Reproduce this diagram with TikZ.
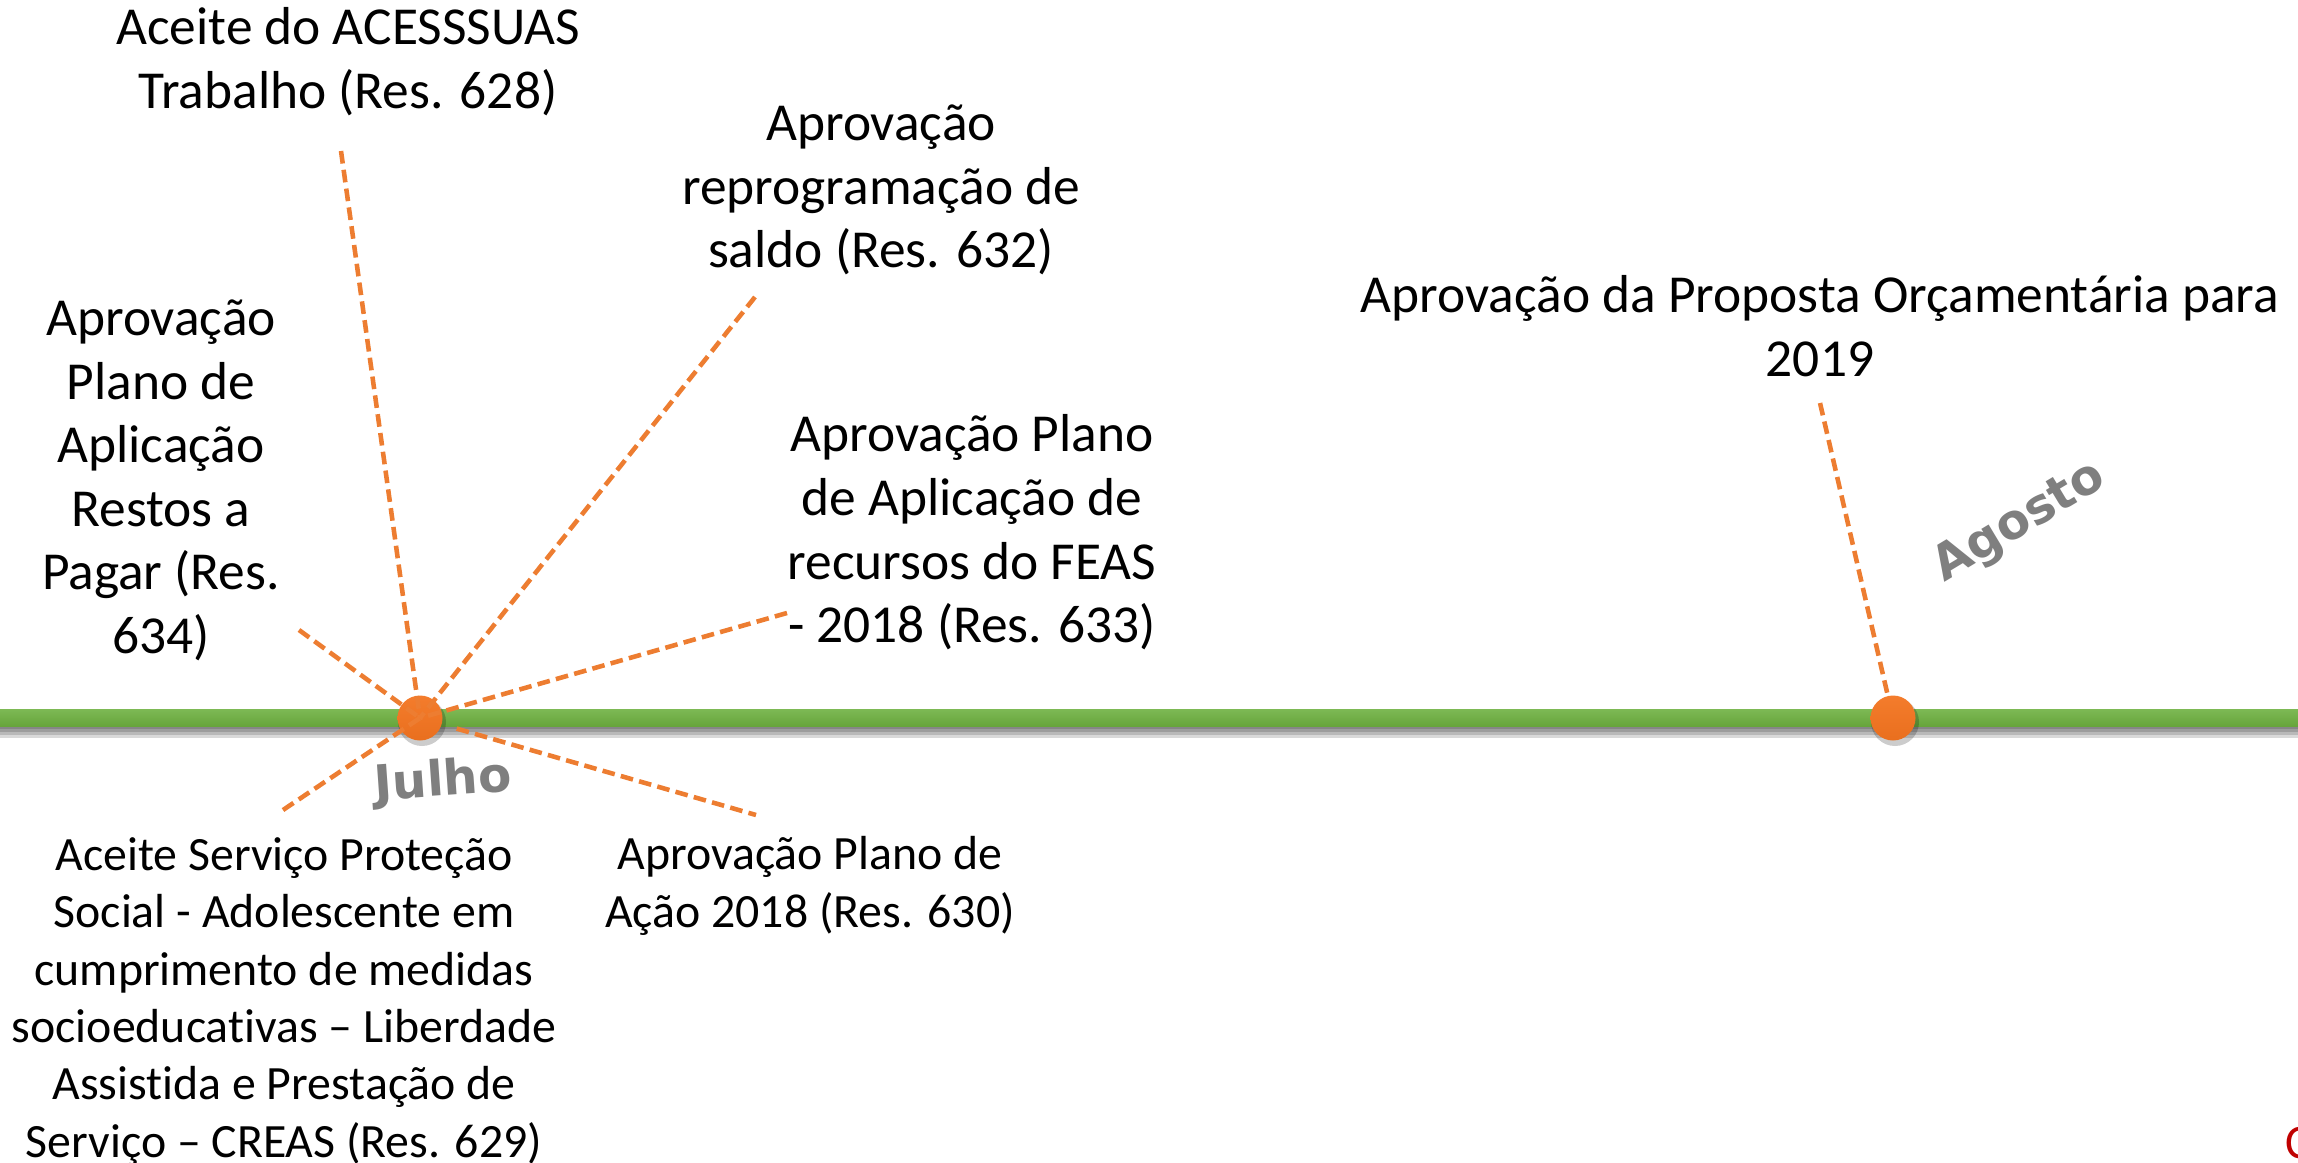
\documentclass[tikz,border=0pt]{standalone}
\usepackage{fontspec}
\setmainfont{Carlito}[Ligatures=NoCommon]
\newfontfamily\monthfont{DejaVu Sans}
\usetikzlibrary{positioning}

\definecolor{linegreen}{HTML}{70AD47}
\definecolor{linegreenlight}{HTML}{7DB955}
\definecolor{linegreendark}{HTML}{67A53B}
\definecolor{dotorange}{HTML}{F47C2C}
\definecolor{dotorangedark}{HTML}{E96F1E}
\definecolor{dashorange}{HTML}{ED7D31}
\definecolor{monthgray}{HTML}{7F7F7F}
\definecolor{notered}{HTML}{C00000}

\tikzset{
  event/.style={align=center, inner sep=0pt, anchor=north,
    font=\fontsize{15.2}{18.1}\selectfont},
  eventlow/.style={event, font=\fontsize{13.6}{16.3}\selectfont},
  leader/.style={dashorange, line width=1.3pt, dash pattern=on 3.6pt off 1.8pt},
  month/.style={monthgray, inner sep=0pt,
    font=\monthfont\bfseries\fontsize{13.8}{16}\selectfont},
  milestone/.style={circle, inner sep=0pt, minimum size=0.45cm,
    top color=dotorange, bottom color=dotorangedark, draw=none}
}

\begin{document}
\begin{tikzpicture}
  \useasboundingbox (0,0) rectangle (22.98,11.62);
  \clip (0,0) rectangle (22.98,11.62);

  % parameters
  \def\W{22.98}
  \def\yl{4.44}

  % timeline with its shadow
  \foreach \s in {0.03,0.06,0.09,0.12}
    \fill[black, opacity=0.15] (0,4.50-\s) rectangle (\W,4.36-\s);
  \shade[top color=linegreenlight, bottom color=linegreendark] (0,4.36) rectangle (\W,4.53);

  % dot shadows
  \fill[black, opacity=0.2] (4.22,4.40) circle (0.24);
  \fill[black, opacity=0.2] (18.95,4.40) circle (0.24);

  % milestones
  \node[milestone] (jul) at (4.20,\yl) {};
  \node[milestone] (ago) at (18.93,\yl) {};

  % events of July
  \node[event] (acessuas) at (3.48,11.55) {Aceite do ACESSSUAS\\Trabalho (Res. 628)};
  \node[event] (reprog) at (8.81,10.58) {Aprovação\\reprogramação de\\saldo (Res. 632)};
  \node[event] (restos) at (1.61,8.63) {Aprovação\\Plano de\\Aplicação\\Restos a\\Pagar (Res.\\634)};
  \node[event] (feas) at (9.72,7.48) {Aprovação Plano\\de Aplicação de\\recursos do FEAS\\- 2018 (Res. 633)};
  \node[eventlow] (creas) at (2.84,3.25) {Aceite Serviço Proteção\\Social - Adolescente em\\cumprimento de medidas\\socioeducativas – Liberdade\\Assistida e Prestação de\\Serviço – CREAS (Res. 629)};
  \node[eventlow] (acao) at (8.10,3.26) {Aprovação Plano de\\Ação 2018 (Res. 630)};

  % event of August
  \node[event] (orcam) at (18.20,8.87) {Aprovação da Proposta Orçamentária para\\2019};

  % free ends of the leaders
  \coordinate (acessuas-end) at (3.41,10.11);
  \coordinate (reprog-end) at (7.55,8.65);
  \coordinate (restos-end) at (2.99,5.32);
  \coordinate (feas-end) at (7.87,5.49);
  \coordinate (creas-end) at (2.83,3.52);
  \coordinate (acao-end) at (7.56,3.47);
  \coordinate (orcam-end) at (18.20,7.59);

  % leaders
  \draw[leader] (acessuas-end) -- (jul.center);
  \draw[leader] (reprog-end) -- (jul.center);
  \draw[leader] (restos-end) -- (jul.center);
  \draw[leader] (feas-end) -- (jul.center);
  \draw[leader] (creas-end) -- (jul.center);
  \draw[leader, shorten <=0.15cm] (jul) -- (acao-end);
  \draw[leader] (orcam-end) -- (ago);

  % month labels
  \node[month, rotate=4] (julho) at (4.43,3.80) {Julho};
  \node[month, rotate=31] (agosto) at (20.20,6.39) {Agosto};

  % cut letter in the corner
  \node[notered, inner sep=0pt, anchor=base west, font=\fontsize{13.7}{16}\selectfont] (corner) at (22.85,0.04) {C};
\end{tikzpicture}
\end{document}
